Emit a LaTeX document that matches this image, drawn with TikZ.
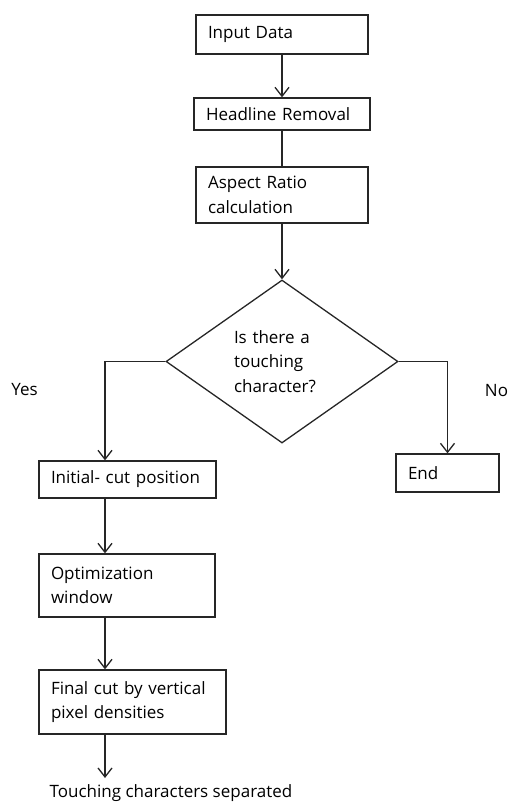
\documentclass[tikz,border=0pt]{standalone}
\usepackage{fontspec}
\setmainfont{Open Sans}
\usetikzlibrary{shapes.geometric,arrows.meta}
\begin{document}
\begin{tikzpicture}[x=1pt,y=-1pt,
  every node/.style={font=\fontsize{17}{24.6}\selectfont, text=black},
  box/.style={draw=black!85, line width=1.3pt, rectangle, inner xsep=12pt, inner ysep=0pt, align=left, anchor=center},
  decision/.style={draw=black!85, line width=1.3pt, diamond, aspect=1.423, inner sep=0pt, minimum width=232pt, minimum height=163pt, align=left, text width=96pt},
  plain/.style={inner sep=0pt},
  arr/.style={draw=black!85, line width=1.3pt, -{Straight Barb[length=9pt,width=14pt,line width=1.3pt]}},
  ln/.style={draw=black!85, line width=1.3pt}]
\useasboundingbox (0,0) rectangle (509,804);
\node[box, minimum width=172pt, minimum height=39pt, text width=148pt] (inp) at (282,34.5) {Input Data};
\node[box, minimum width=176pt, minimum height=32pt, text width=152pt] (head) at (282,114) {Headline Removal};
\node[box, minimum width=172pt, minimum height=56pt, text width=148pt] (asp) at (282,195) {Aspect Ratio\\calculation};
\node[decision] (dia) at (282,361.5) {Is there a\\touching\\character?};
\node[box, minimum width=177pt, minimum height=37pt, text width=153pt] (ini) at (127.5,479.5) {Initial- cut position};
\node[box, minimum width=176pt, minimum height=63pt, text width=152pt] (opt) at (127,585.5) {Optimization\\window};
\node[box, minimum width=187pt, minimum height=64pt, text width=163pt] (fin) at (132.5,702) {Final cut by vertical\\pixel densities};
\node[box, minimum width=103pt, minimum height=38pt, text width=79pt] (end) at (447.5,473) {End};
\node[plain] (out) at (171,793) {Touching characters separated};
\node[plain] (yes) at (24.5,390) {Yes};
\node[plain] (no) at (496.5,391) {No};
\coordinate (yescol) at (105,400);
\coordinate (outtip) at (105,778);
\draw[arr] (inp) -- (head);
\draw[ln] (head) -- (asp);
\draw[arr] (asp) -- (dia.north);
\draw[arr] (dia.west) -| (yescol |- ini.north);
\draw[arr] (dia.east) -| (end.north);
\draw[arr] (yescol |- ini.south) -- (yescol |- opt.north);
\draw[arr] (yescol |- opt.south) -- (yescol |- fin.north);
\draw[arr] (fin.south -| outtip) -- (outtip);
\end{tikzpicture}
\end{document}
